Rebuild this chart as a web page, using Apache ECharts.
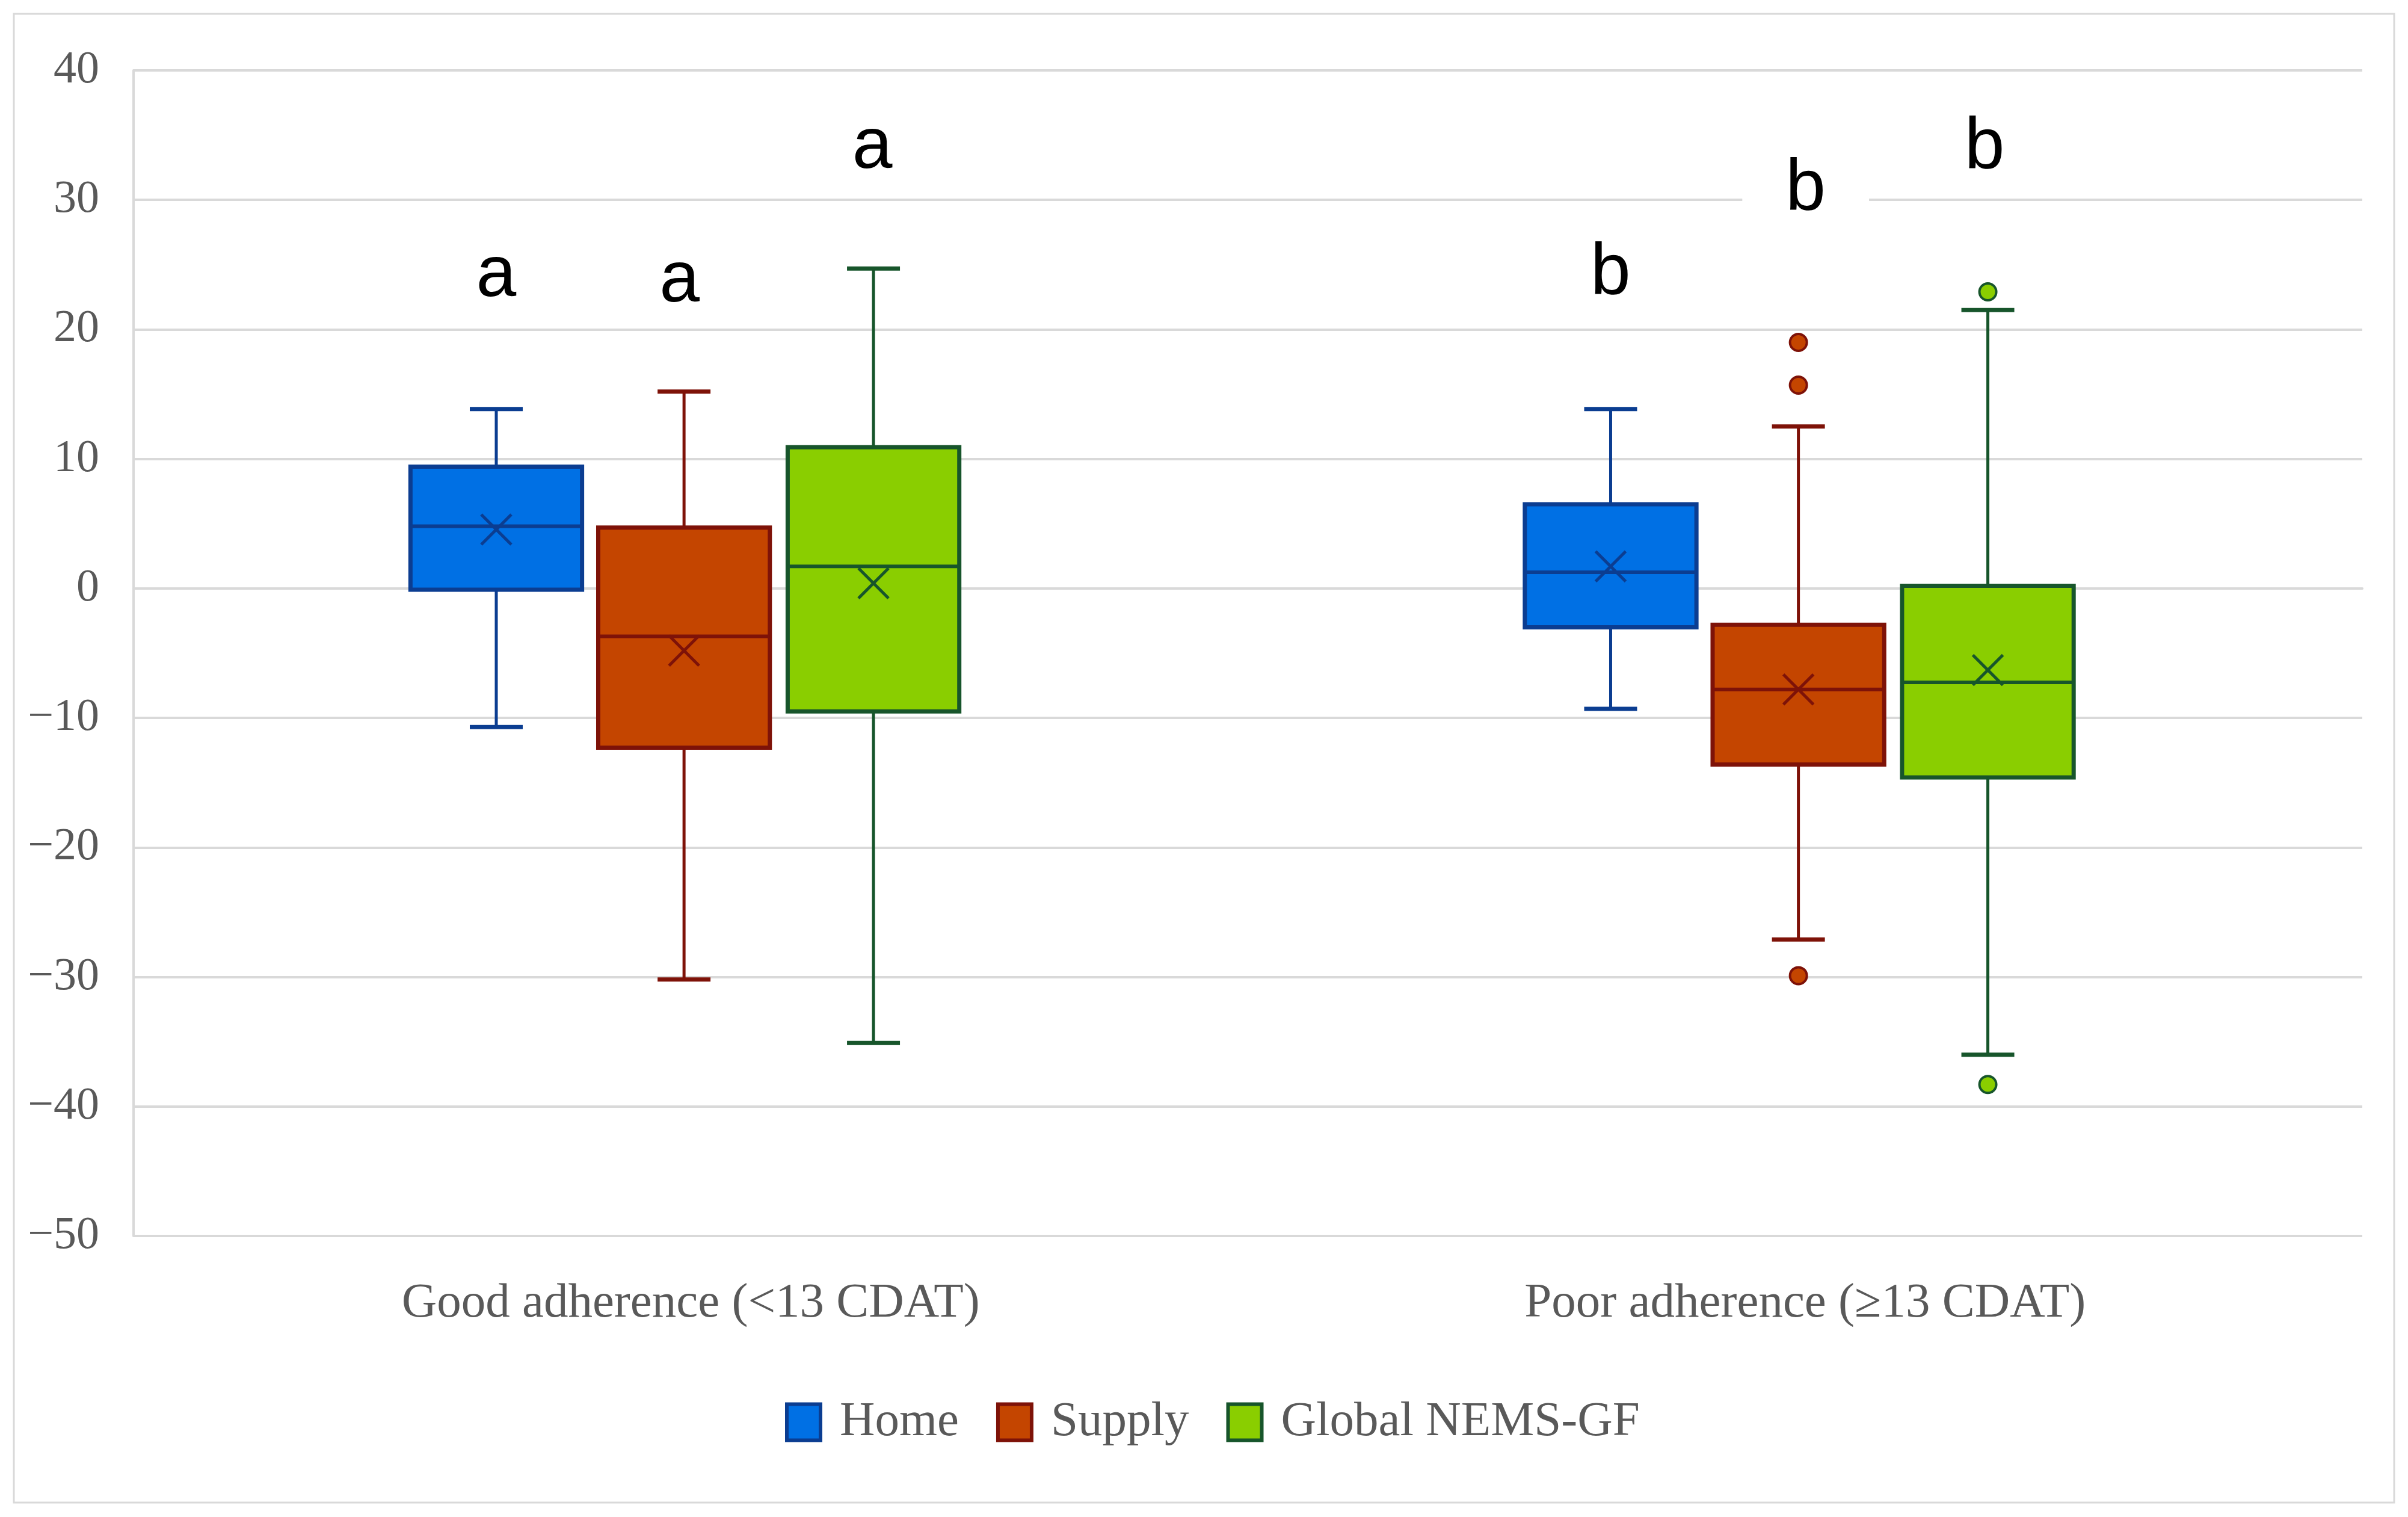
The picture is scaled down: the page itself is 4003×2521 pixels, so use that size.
<!DOCTYPE html>
<html>
<head>
<meta charset="utf-8">
<script src="https://cdn.jsdelivr.net/npm/echarts@6/dist/echarts.min.js"></script>
<style>
html,body{margin:0;padding:0;background:#fff;}
#c{width:4003px;height:2521px;}
</style>
</head>
<body>
<div id="c"></div>
<script>
// ---- data ----
const categories = ['Good adherence (<13 CDAT)', 'Poor adherence (\u226513 CDAT)'];
const seriesNames = ['Home', 'Supply', 'Global NEMS-GF'];
// [low whisker, Q1, median, Q3, high whisker]
const homeStats = [[-10.7, -0.1, 4.8, 9.4, 13.85], [-9.3, -3.0, 1.25, 6.5, 13.85]];
const supplyStats = [[-30.2, -12.3, -3.7, 4.7, 15.2], [-27.1, -13.6, -7.8, -2.8, 12.5]];
const globalStats = [[-35.1, -9.5, 1.7, 10.9, 24.7], [-36.0, -14.6, -7.25, 0.2, 21.5]];
const homeMean = [4.55, 1.7];
const supplyMean = [-4.8, -7.8];
const globalMean = [0.4, -6.3];
const homeOutliers = [];
const supplyOutliers = [[1, 19.0], [1, 15.7], [1, -29.9]];
const globalOutliers = [[1, 22.9], [1, -38.3]];
// significance letters: [category, series, y]
const letterText = ['a', 'a', 'a', 'b', 'b', 'b'];
const letterPos = [[0, 0, 24.1], [0, 1, 23.7], [0, 2, 34.0], [1, 0, 24.3], [1, 1, 30.8], [1, 2, 34.0]];
const yTicks = { min: -50, max: 40, interval: 10 };

// ---- styles ----
const fills = ['#0070E4', '#C44500', '#8ACE00'];
const strokes = ['#0B3D91', '#7E1208', '#17552B'];
const offsets = [-0.1745, -0.006, 0.164];
const letterShift = [0, -0.004, -0.001, 0, 0.0065, -0.003];
const boxFrac = 0.154;
const capHalf = 44;
const serif = 'Liberation Serif';

function toRows(stats, means) {
  return stats.map((s, i) => [i].concat(s).concat([means[i]]));
}
const statsAll = [toRows(homeStats, homeMean), toRows(supplyStats, supplyMean), toRows(globalStats, globalMean)];
const outliersAll = [homeOutliers, supplyOutliers, globalOutliers];

function boxRender(sIdx) {
  return function (params, api) {
    const cat = api.value(0);
    const band = api.size([1, 0])[0];
    const xc = api.coord([cat, 0])[0] + offsets[sIdx] * band;
    const y = k => api.coord([cat, api.value(k)])[1];
    const yLow = y(1), yQ1 = y(2), yMed = y(3), yQ3 = y(4), yHigh = y(5), yMean = y(6);
    const bw = boxFrac * band;
    const st = strokes[sIdx];
    const line = (x1, y1, x2, y2, w) => ({ type: 'line', shape: { x1, y1, x2, y2 }, style: { stroke: st, lineWidth: w } });
    const xs = 25;
    return {
      type: 'group',
      children: [
        line(xc, yHigh, xc, yQ3, 5),
        line(xc, yQ1, xc, yLow, 5),
        line(xc - capHalf, yHigh, xc + capHalf, yHigh, 7),
        line(xc - capHalf, yLow, xc + capHalf, yLow, 7),
        { type: 'rect', shape: { x: xc - bw / 2, y: yQ3, width: bw, height: yQ1 - yQ3 }, style: { fill: fills[sIdx], stroke: st, lineWidth: 7 } },
        line(xc - bw / 2, yMed, xc + bw / 2, yMed, 6),
        line(xc - xs, yMean - xs, xc + xs, yMean + xs, 5),
        line(xc - xs, yMean + xs, xc + xs, yMean - xs, 5)
      ]
    };
  };
}
function outlierRender(sIdx) {
  return function (params, api) {
    const cat = api.value(0);
    const band = api.size([1, 0])[0];
    const pt = api.coord([cat, api.value(1)]);
    return { type: 'circle', shape: { cx: pt[0] + offsets[sIdx] * band, cy: pt[1], r: 14 }, style: { fill: fills[sIdx], stroke: strokes[sIdx], lineWidth: 4 } };
  };
}

const series = [];
for (let i = 0; i < 3; i++) {
  series.push({
    type: 'custom', name: seriesNames[i],
    itemStyle: { color: fills[i], borderColor: strokes[i] },
    renderItem: boxRender(i),
    encode: { x: 0, y: [1, 2, 3, 4, 5, 6] },
    data: statsAll[i], z: 3
  });
  series.push({
    type: 'custom', name: seriesNames[i],
    itemStyle: { color: fills[i], borderColor: strokes[i] },
    renderItem: outlierRender(i),
    encode: { x: 0, y: 1 },
    data: outliersAll[i], z: 4
  });
}
series.push({
  type: 'custom', name: 'letters', z: 5,
  renderItem: function (params, api) {
    const cat = api.value(0), sIdx = api.value(1);
    const band = api.size([1, 0])[0];
    const pt = api.coord([cat, api.value(2)]);
    return {
      type: 'text', x: pt[0] + (offsets[sIdx] + letterShift[params.dataIndex]) * band, y: pt[1],
      style: {
        text: letterText[params.dataIndex], fill: '#000',
        font: '120px "Liberation Sans"', align: 'center', verticalAlign: 'middle',
        backgroundColor: '#fff', padding: [0, 72]
      }
    };
  },
  encode: { x: 0, y: 2 },
  data: letterPos
});

const chart = echarts.init(document.getElementById('c'), null, { renderer: 'canvas' });
chart.setOption({
  backgroundColor: '#fff',
  animation: false,
  graphic: [{
    type: 'rect', shape: { x: 23, y: 23, width: 3957, height: 2474 },
    style: { fill: 'none', stroke: '#D9D9D9', lineWidth: 3 }, z: -1
  }],
  grid: { left: 222, right: 76, top: 117, bottom: 467, containLabel: false },
  legend: {
    left: 1300, top: 2318,
    icon: 'rect', itemWidth: 56, itemHeight: 60, itemGap: 62,
    textStyle: { fontFamily: serif, fontSize: 81, color: '#595959', padding: [0, 0, 0, 27] },
    data: seriesNames.map((n, i) => ({ name: n, itemStyle: { color: fills[i], borderColor: strokes[i], borderWidth: 6 } }))
  },
  xAxis: {
    type: 'category', data: categories,
    axisLine: { show: true, lineStyle: { color: '#D9D9D9', width: 4 } },
    axisTick: { show: false },
    splitLine: { show: false },
    axisLabel: { fontFamily: serif, fontSize: 81, color: '#595959', margin: 72 }
  },
  yAxis: {
    type: 'value', min: yTicks.min, max: yTicks.max, interval: yTicks.interval,
    axisLine: { show: true, lineStyle: { color: '#D9D9D9', width: 4 } },
    axisTick: { show: false },
    splitLine: { show: true, lineStyle: { color: '#D9D9D9', width: 4 } },
    axisLabel: {
      fontFamily: serif, fontSize: 76, color: '#595959', margin: 57,
      formatter: v => String(v).replace('-', '\u2212')
    }
  },
  series: series
});
</script>
</body>
</html>
